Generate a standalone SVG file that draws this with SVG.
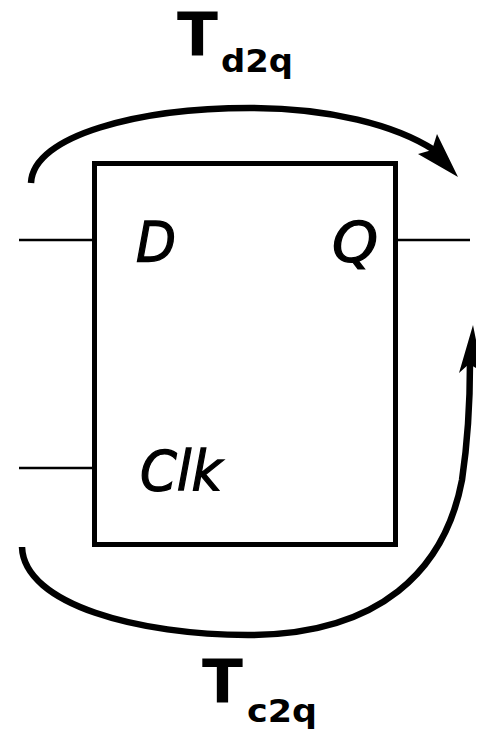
<svg xmlns="http://www.w3.org/2000/svg" width="477" height="732" viewBox="0 0 477 732">
<style>
.box{fill:#fff;stroke:#000;stroke-width:5}
.wire{stroke:#000;stroke-width:2.5;fill:none}
.arc{stroke:#000;stroke-width:6.5;fill:none;stroke-linecap:butt}
.head{fill:#000}
.pin{font-family:"DejaVu Sans",sans-serif;font-style:italic;font-size:56px;fill:#000;stroke:#000;stroke-width:1.3}
.tl{font-family:"DejaVu Sans",sans-serif;font-weight:bold;fill:#000}
</style>
<rect width="477" height="732" fill="#fff"/>
<g id="flipflop">
<rect class="box" x="94.5" y="163.5" width="301" height="381"/>
<text class="pin" x="136" y="261" textLength="40" lengthAdjust="spacingAndGlyphs">D</text>
<text class="pin" x="332" y="261" textLength="46" lengthAdjust="spacingAndGlyphs">Q</text>
<text class="pin" x="140" y="490" textLength="82" lengthAdjust="spacingAndGlyphs">Clk</text>
</g>
<g id="wires">
<line class="wire" x1="19" y1="240" x2="94" y2="240"/>
<line class="wire" x1="396" y1="240" x2="470" y2="240"/>
<line class="wire" x1="19" y1="468" x2="94" y2="468"/>
</g>
<g id="connectors">
<path class="arc" d="M31,183 C33,135 140,108 250,108 C330,108 395,125 434,150"/>
<polygon class="head" points="458,177 437,134 432,150 418,154"/>
<path class="arc" d="M22,547 C24,605 140,635 248,635 C380,635 445,570 462,480 C468,440 470,400 470,362"/>
<polygon class="head" points="473,325 459,373 469,364 476,368 476,340"/>
</g>
<g id="label-td2q">
<text class="tl" x="177" y="56" font-size="60">T</text>
<text class="tl" x="221" y="72" font-size="32" textLength="72" lengthAdjust="spacingAndGlyphs">d2q</text>
</g>
<g id="label-tc2q">
<text class="tl" x="202" y="703" font-size="60">T</text>
<text class="tl" x="247" y="722" font-size="32" textLength="70" lengthAdjust="spacingAndGlyphs">c2q</text>
</g>
</svg>
